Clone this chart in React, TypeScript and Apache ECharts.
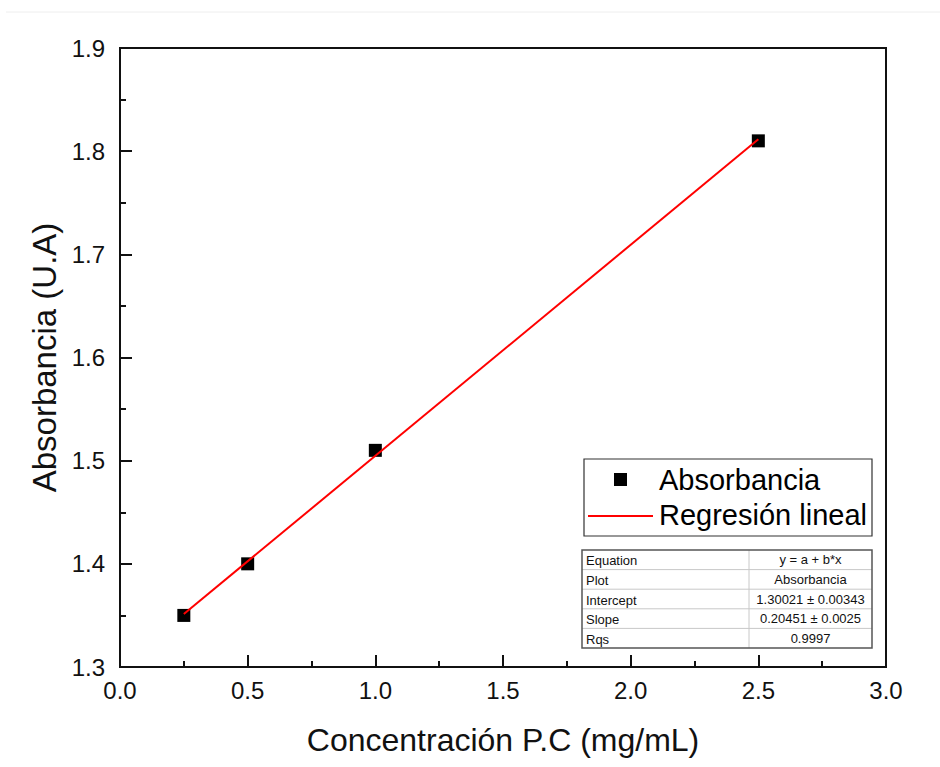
import React, { useEffect, useRef } from "react";
import * as echarts from "echarts";

const concentrations = [0.25, 0.5, 1.0, 2.5];
const absorbances = [1.35, 1.4, 1.51, 1.81];
const seriesNames = ["Absorbancia", "Regresión lineal"];
const intercept = 1.30021;
const slope = 0.20451;
const tableLabels = ["Equation", "Plot", "Intercept", "Slope", "Rqs"];
const tableValues = ["y = a + b*x", "Absorbancia", "1.30021 ± 0.00343", "0.20451 ± 0.0025", "0.9997"];
const xTitle = "Concentración P.C (mg/mL)";
const yTitle = "Absorbancia (U.A)";

const FONT = "'Liberation Sans', Arial, sans-serif";

export default function App() {
  const ref = useRef<HTMLDivElement>(null);
  useEffect(() => {
    if (!ref.current) return;
    const chart = echarts.init(ref.current, undefined, { renderer: "svg" });
    const x0 = concentrations[0];
    const x1 = concentrations[concentrations.length - 1];
    const fitLine = [
      [x0, intercept + slope * x0],
      [x1, intercept + slope * x1],
    ];

    // Legend graphic
    const lgX = 584, lgY = 459, lgW = 288, lgH = 77;
    const legendEls: any[] = [
      { type: "rect", shape: { x: lgX, y: lgY, width: lgW, height: lgH }, style: { fill: "#fff", stroke: "#333", lineWidth: 1.2 }, z: 10 },
      { type: "rect", shape: { x: 614, y: 473, width: 13, height: 13 }, style: { fill: "#000" }, z: 11 },
      { type: "text", x: 659, y: 480, style: { text: seriesNames[0], font: `29px ${FONT}`, fill: "#000", textVerticalAlign: "middle" }, z: 11 },
      { type: "line", shape: { x1: 588, y1: 516, x2: 653, y2: 516 }, style: { stroke: "#ff0000", lineWidth: 2 }, z: 11 },
      { type: "text", x: 659, y: 515, style: { text: seriesNames[1], font: `29px ${FONT}`, fill: "#000", textVerticalAlign: "middle" }, z: 11 },
    ];

    // Table graphic
    const tX = 582, tY = 550, tW = 290, rowH = 19.6, colX = 749;
    const tH = rowH * tableLabels.length;
    const tableEls: any[] = [
      { type: "rect", shape: { x: tX, y: tY, width: tW, height: tH }, style: { fill: "#fff", stroke: "none" }, z: 10 },
    ];
    for (let i = 1; i < tableLabels.length; i++) {
      tableEls.push({ type: "line", shape: { x1: tX, y1: tY + i * rowH, x2: tX + tW, y2: tY + i * rowH }, style: { stroke: "#c8c8c8", lineWidth: 1 }, z: 11 });
    }
    tableEls.push({ type: "line", shape: { x1: colX, y1: tY, x2: colX, y2: tY + tH }, style: { stroke: "#c8c8c8", lineWidth: 1 }, z: 11 });
    tableEls.push({ type: "rect", shape: { x: tX, y: tY, width: tW, height: tH }, style: { fill: "none", stroke: "#555", lineWidth: 1.5 }, z: 12 });
    tableLabels.forEach((lab, i) => {
      const cy = tY + i * rowH + rowH / 2 + 1;
      tableEls.push({ type: "text", x: tX + 4, y: cy, style: { text: lab, font: `13px ${FONT}`, fill: "#111", textVerticalAlign: "middle" }, z: 13 });
      tableEls.push({ type: "text", x: (colX + tX + tW) / 2, y: cy - 1, style: { text: tableValues[i], font: `13px ${FONT}`, fill: "#111", textAlign: "center", textVerticalAlign: "middle" }, z: 13 });
    });

    chart.setOption({
      animation: false,
      backgroundColor: "#fff",
      grid: { left: 120, right: 54, top: 48, bottom: 100, show: true, borderColor: "#111", borderWidth: 2, backgroundColor: "transparent" },
      xAxis: {
        type: "value",
        min: 0,
        max: 3,
        interval: 0.5,
        axisLine: { show: true, onZero: false, lineStyle: { color: "#111", width: 2 } },
        axisTick: { show: true, inside: true, length: 12, lineStyle: { color: "#111", width: 2 } },
        minorTick: { show: true, splitNumber: 2, length: 6, lineStyle: { color: "#111", width: 2 } },
        splitLine: { show: false },
        axisLabel: { fontSize: 24, fontFamily: FONT, color: "#111", margin: 11, formatter: (v: number) => v.toFixed(1) },
        name: xTitle,
        nameLocation: "middle",
        nameGap: 57,
        nameTextStyle: { fontSize: 32, fontFamily: FONT, color: "#111" },
      },
      yAxis: {
        type: "value",
        min: 1.3,
        max: 1.9,
        interval: 0.1,
        axisLine: { show: true, onZero: false, lineStyle: { color: "#111", width: 2 } },
        axisTick: { show: true, inside: true, length: 12, lineStyle: { color: "#111", width: 2 } },
        minorTick: { show: true, splitNumber: 2, length: 6, lineStyle: { color: "#111", width: 2 } },
        splitLine: { show: false },
        axisLabel: { fontSize: 24, fontFamily: FONT, color: "#111", margin: 15, formatter: (v: number) => v.toFixed(1) },
        name: yTitle,
        nameLocation: "middle",
        nameGap: 52,
        nameTextStyle: { fontSize: 33, fontFamily: FONT, color: "#111" },
      },
      series: [
        {
          name: seriesNames[0],
          type: "scatter",
          symbol: "rect",
          symbolSize: 13,
          itemStyle: { color: "#000", opacity: 1 },
          data: concentrations.map((c, i) => [c, absorbances[i]]),
          z: 2,
        },
        {
          name: seriesNames[1],
          type: "line",
          showSymbol: false,
          symbol: "none",
          lineStyle: { color: "#ff0000", width: 2 },
          data: fitLine,
          z: 3,
        },
      ],
      graphic: [
        { type: "line", shape: { x1: 6, y1: 12, x2: 940, y2: 12 }, style: { stroke: "#eeeeee", lineWidth: 1 } },
        ...legendEls,
        ...tableEls,
      ],
    });
    return () => chart.dispose();
  }, []);
  return <div ref={ref} style={{ position: "fixed", left: 0, top: 0, width: 940, height: 767 }} />;
}
